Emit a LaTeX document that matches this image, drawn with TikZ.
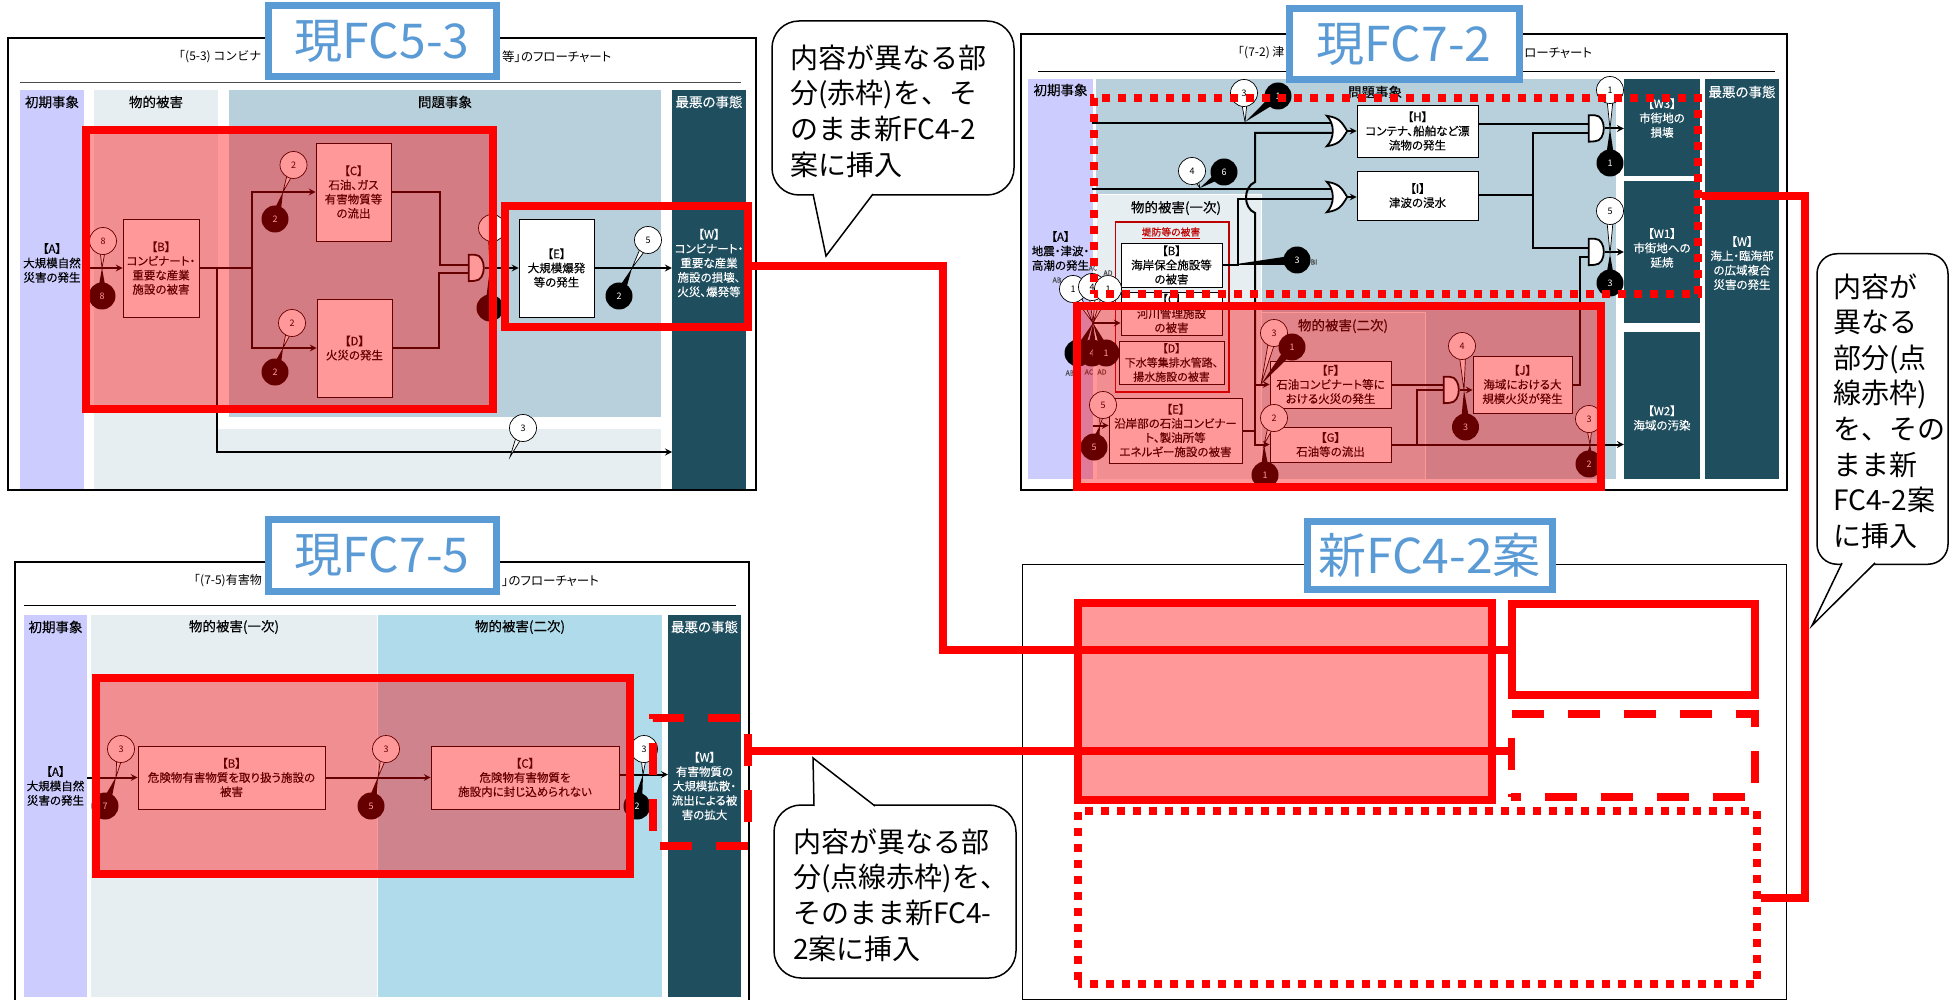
\documentclass[tikz,border=0pt]{standalone}
\usepackage{fontspec}
\setmainfont[RawFeature=+palt,FakeBold=0.2]{Noto Sans CJK JP}
\newfontfamily\notefont{Noto Sans CJK JP}
\newfontfamily\titlefont[RawFeature=+palt]{Noto Sans CJK JP}
\usetikzlibrary{calc,shadows}
\definecolor{lavcol}{HTML}{CCCCFF}
\definecolor{palecol}{HTML}{E6EEF2}
\definecolor{bluecol}{HTML}{B8CFDC}
\definecolor{skycol}{HTML}{B0DBEB}
\definecolor{midcol}{HTML}{CFDFE8}
\definecolor{darkcol}{HTML}{1F4E5F}
\definecolor{tagcol}{HTML}{5B9BD5}
\tikzset{%
wh/.style 2 args={minimum width=#1pt,minimum height=#2pt},
panel/.style={draw=black,line width=1.5pt,fill=white,inner sep=0pt},
col/.style={fill=#1,inner sep=0pt},
head/.style={inner sep=0pt,font=\fontsize{13.5}{16}\selectfont},
evbox/.style={draw=black,line width=.7pt,fill=white,inner sep=0pt,align=center,font=\fontsize{11.5}{14.2}\selectfont},
evtext/.style={inner sep=0pt,align=center,font=\fontsize{11.5}{14.4}\selectfont},
titletext/.style={inner sep=0pt,font=\notefont\fontsize{12}{14}\selectfont},
titleright/.style={anchor=west,inner sep=0pt,font=\titlefont\fontsize{12.5}{14}\selectfont},
tinytext/.style={inner sep=0pt,text=black!70,font=\fontsize{7}{8}\selectfont},
flow/.style={draw=black,line width=2pt},
gateline/.style={draw=black,line width=1.8pt,fill=white},
bubw/.style={circle,draw=black,line width=.7pt,fill=white,minimum size=27pt,inner sep=0pt,font=\notefont\fontsize{9}{9}\selectfont},
bubk/.style={circle,fill=black,text=white,minimum size=27pt,inner sep=0pt,font=\notefont\fontsize{9}{9}\selectfont},
redfill/.style={draw=red,line width=8pt,fill=red,fill opacity=.4,draw opacity=1},
redline/.style={draw=red,line width=8pt},
reddash/.style={draw=red,line width=7.5pt,dash pattern=on 32pt off 24pt,dash phase=#1},
reddot/.style={draw=red,line width=7.5pt,dash pattern=on 8pt off 8pt,dash phase=#1},
link/.style={draw=red,line width=8pt},
tagbox/.style={draw=tagcol,line width=7pt,fill=white,inner sep=0pt,text=tagcol,font=\notefont\fontsize{48}{52}\selectfont},
notebody/.style={draw=black,line width=1.5pt,fill=white,inner sep=0pt},
notetext/.style={anchor=west,inner sep=0pt,align=left,font=\notefont\fontsize{28}{35.6}\selectfont},
}
\newcommand{\bubwhite}[6]{%
\coordinate (#1c) at (#2,#3);\coordinate (#1t) at (#4,#5);
\filldraw[draw=black,line width=.7pt,fill=white] (#1t) -- ($(#1c)!4pt!90:(#1t)$) -- ($(#1c)!4pt!-90:(#1t)$) -- cycle;
\node[bubw] (#1) at (#1c) {#6};}
\newcommand{\bubblack}[6]{%
\coordinate (#1c) at (#2,#3);\coordinate (#1t) at (#4,#5);
\fill[black] (#1t) -- ($(#1c)!5pt!90:(#1t)$) -- ($(#1c)!5pt!-90:(#1t)$) -- cycle;
\node[bubk] (#1) at (#1c) {#6};}
\newcommand{\andgate}[3]{%
\node[wh={16}{26},inner sep=0pt] (#1) at (#2,#3) {};
\draw[gateline] (#1.north west) -- ++(6,0) .. controls +(12,0) and +(12,0) .. ++(0,26) -- (#1.south west) -- cycle;}
\newcommand{\orgate}[3]{%
\node[wh={20}{30},inner sep=0pt] (#1) at (#2,#3) {};
\draw[gateline] (#1.north west) .. controls +(12,2) and +(-6,-10) .. (#1.east) .. controls +(-6,10) and +(12,-2) .. (#1.south west) .. controls +(8,-8) and +(8,8) .. (#1.north west) -- cycle;}
\newcommand{\notetail}[3]{%
\fill[white] (#1) -- (#2) -- (#3) -- cycle;
\draw[black,line width=1.5pt] (#1) -- (#2) -- (#3);}

\begin{document}
\begin{tikzpicture}[x=1pt,y=-1pt,>=stealth]
\useasboundingbox (0,0) rectangle (1952,1000);

% FC5-3
\node[panel,wh={748}{452}] (pan53) at (382,264) {};
\node[titletext,anchor=west] (tla53) at (173,57) {「(5-3) コンビナ};
\node[titleright] (tlb53) at (502,57) {等」のフローチャート};
\draw[black!70,line width=1pt] (20,83) -- (741,83);
\node[col=lavcol,wh={64}{399}] (a53) at (52,289.5) {};
\node[col=palecol,wh={124}{399}] (p53) at (156,289.5) {};
\node[col=bluecol,wh={432}{327}] (q53) at (445,253.5) {};
\node[col=palecol,wh={443}{60}] (r53) at (439.5,459) {};
\node[col=darkcol,wh={74}{399}] (w53) at (709,289.5) {};
\node[head] (ha53) at (52,102) {初期事象};
\node[head] (hp53) at (156,102) {物的被害};
\node[head] (hq53) at (445,102) {問題事象};
\node[head,text=white] (hw53) at (709,102) {最悪の事態};
\node[evtext] (at53) at (52,263) {【A】\\大規模自然\\災害の発生};
\node[evtext,text=white] (wt53) at (709,263) {【W】\\コンビナート・\\重要な産業\\施設の損壊、\\火災、爆発等};
\node[evbox,wh={76}{98}] (b53) at (161,268) {【B】\\コンビナート・\\重要な産業\\施設の被害};
\node[evbox,wh={75}{98}] (c53) at (353.5,192) {【C】\\石油、ガス\\有害物質等\\の流出};
\node[evbox,wh={75}{98}] (d53) at (354.5,348) {【D】\\火災の発生};
\node[evbox,wh={75}{98}] (e53) at (556.5,268) {【E】\\大規模爆発\\等の発生};
\andgate{g53}{477}{268}
\coordinate (j53a) at (252,268);
\coordinate (j53b) at (217,268);
\coordinate (k53) at (672,452);
\draw[flow,->] (a53.east |- b53.west) -- (b53.west);
\draw[flow] (b53.east) -- (j53a);
\draw[flow,->] (j53a) |- (c53.west);
\draw[flow,->] (j53a) |- (d53.west);
\draw[flow] (c53.east) -- ++(49,0) |- ([yshift=3pt]g53.west);
\draw[flow] (d53.east) -- ++(47,0) |- ([yshift=-5pt]g53.west);
\draw[flow,->] (g53.east) -- (e53.west);
\draw[flow,->] (e53.east) -- (e53.east -| w53.west);
\draw[flow,->] (j53b) |- (k53);
\bubwhite{wa53}{103}{241}{102}{268}{8}
\bubblack{ka53}{102}{296}{102}{268}{8}
\bubwhite{wb53}{293.5}{165}{283}{192}{2}
\bubblack{kb53}{275}{219}{283}{192}{2}
\bubwhite{wc53}{292}{323}{283}{348}{2}
\bubblack{kc53}{275}{372}{283}{348}{2}
\bubwhite{wd53}{492}{228}{490}{268}{}
\bubblack{kd53}{490}{308}{490}{268}{}
\bubwhite{we53}{648}{240}{632}{268}{5}
\bubblack{ke53}{619}{296}{632}{268}{2}
\bubwhite{wf53}{523}{428}{510}{457}{3}
\node[redfill,wh={407}{279}] (fra53) at (289.5,269.5) {};
\node[redline,wh={243}{121}] (frb53) at (626.5,266.5) {};

% FC7-5
\node[panel,wh={734}{448}] (pan75) at (382,786) {};
\node[titletext,anchor=west] (tla75) at (188,581) {「(7-5)有害物};
\node[titleright] (tlb75) at (502,581) {」のフローチャート};
\draw[black,line width=1pt] (24,605) -- (736,605);
\node[col=lavcol,wh={63}{382}] (a75) at (55.5,806) {};
\node[col=palecol,wh={286}{382}] (p75) at (234,806) {};
\node[col=skycol,wh={284}{382}] (q75) at (520,806) {};
\node[col=darkcol,wh={73}{382}] (w75) at (704.5,806) {};
\node[head] (ha75) at (55.5,627) {初期事象};
\node[head] (hp75) at (234,627) {物的被害(一次)};
\node[head] (hq75) at (520,627) {物的被害(二次)};
\node[head,text=white] (hw75) at (704.5,627) {最悪の事態};
\node[evtext] (at75) at (55.5,786) {【A】\\大規模自然\\災害の発生};
\node[evtext,text=white] (wt75) at (704.5,786) {【W】\\有害物質の\\大規模拡散・\\流出による被\\害の拡大};
\node[evbox,wh={187}{63}] (b75) at (231.5,777.5) {【B】\\危険物有害物質を取り扱う施設の\\被害};
\node[evbox,wh={188}{63}] (c75) at (525,777.5) {【C】\\危険物有害物質を\\施設内に封じ込められない};
\coordinate (k75) at (668,774.5);
\draw[flow,->] (a75.east |- b75.west) -- (b75.west);
\draw[flow,->] (b75.east) -- (c75.west);
\draw[flow,->] ([yshift=3pt]c75.east) -- (k75);
\bubwhite{wa75}{121}{749}{116}{777}{3}
\bubblack{ka75}{105}{806}{116}{777}{7}
\bubwhite{wb75}{386}{749}{378}{777}{3}
\bubblack{kb75}{371}{806}{378}{777}{5}
\bubwhite{wc75}{644}{749}{643}{774.5}{3}
\bubblack{kc75}{637}{806}{643}{774.5}{2}
\node[redfill,wh={534}{196}] (fra75) at (363,776) {};
\node[reddash=49pt,wh={95}{128}] (frb75) at (700.5,782) {};

% FC7-2
\node[panel,wh={766}{456}] (pan72) at (1404,262) {};
\node[titletext,anchor=west] (tla72) at (1232,53) {「(7-2) 津};
\node[titleright] (tlb72) at (1524,53) {ローチャート};
\draw[black,line width=1pt] (1038,72) -- (1775,72);
\node[col=lavcol,wh={65}{400}] (a72) at (1060.5,279) {};
\node[col=bluecol,wh={520}{400}] (q72) at (1356,279) {};
\node[col=palecol,draw=white,line width=1pt,wh={165}{284}] (p72) at (1178.5,337) {};
\node[col=midcol,draw=white,line width=1pt,wh={164}{166}] (s72) at (1343,396) {};
\node[col=darkcol,wh={76}{97}] (w372) at (1662,127.5) {};
\node[col=darkcol,wh={76}{142}] (w172) at (1662,252) {};
\node[col=darkcol,wh={76}{147}] (w272) at (1662,405.5) {};
\node[col=darkcol,wh={74}{400}] (w72) at (1742,279) {};
\node[head] (ha72) at (1060.5,90) {初期事象};
\node[head] (hq72) at (1375,92) {問題事象};
\node[head,text=white] (hw72) at (1742,92) {最悪の事態};
\node[head] (hp72) at (1176,208) {物的被害(一次)};
\node[head] (hs72) at (1343,326) {物的被害(二次)};
\node[evtext] (at72) at (1060.5,251) {【A】\\地震・津波・\\高潮の発生};
\node[evtext,text=white] (wt372) at (1662,118) {【W3】\\市街地の\\損壊};
\node[evtext,text=white] (wt172) at (1662,248) {【W1】\\市街地への\\延焼};
\node[evtext,text=white] (wt272) at (1662,418) {【W2】\\海域の汚染};
\node[evtext,text=white] (wt72) at (1742,263) {【W】\\海上・臨海部\\の広域複合\\災害の発生};
\node[draw=red!75!black,line width=1.5pt,inner sep=0pt,wh={113.5}{170}] (dyk72) at (1172,307) {};
\node[inner sep=0pt,text=red!75!black,font=\fontsize{9.8}{11}\selectfont] (dyt72) at (1171,233) {\underline{堤防等の被害}};
\node[evbox,wh={121}{52}] (h72) at (1417.5,131) {【H】\\コンテナ、船舶など漂\\流物の発生};
\node[evbox,wh={121}{49}] (i72) at (1417.5,195.5) {【I】\\津波の浸水};
\node[evbox,wh={101}{44},drop shadow={shadow xshift=1pt,shadow yshift=-1pt,fill=black!50,opacity=1}] (b72) at (1171.5,265) {【B】\\海岸保全施設等\\の被害};
\node[evbox,wh={101}{43},drop shadow={shadow xshift=1pt,shadow yshift=-1pt,fill=black!50,opacity=1}] (c72) at (1171.5,313.5) {【C】\\河川管理施設\\の被害};
\node[evbox,wh={105}{43},font=\fontsize{11}{14.2}\selectfont,drop shadow={shadow xshift=1pt,shadow yshift=-1pt,fill=black!50,opacity=1}] (d72) at (1171.5,362.5) {【D】\\下水等集排水管路、\\揚水施設の被害};
\node[evbox,wh={133}{65}] (e72) at (1175.5,430.5) {【E】\\沿岸部の石油コンビナー\\ト、製油所等\\エネルギー施設の被害};
\node[evbox,wh={121}{47}] (f72) at (1330.5,384.5) {【F】\\石油コンビナート等に\\おける火災の発生};
\node[evbox,wh={121}{35}] (g72) at (1330.5,444.5) {【G】\\石油等の流出};
\node[evbox,wh={99}{57}] (j72) at (1522.5,384.5) {【J】\\海域における大\\規模火災が発生};
\orgate{orh72}{1337}{131}
\orgate{ori72}{1337}{197}
\andgate{anda72}{1597}{128.5}
\andgate{andb72}{1597}{252}
\andgate{andj72}{1452}{390}
\coordinate (sa72) at (1092,123);
\coordinate (sb72) at (1092,189);
\coordinate (sc72) at (1093,323);
\coordinate (sd72) at (1093,425.5);
\coordinate (ja72) at (1255,133);
\coordinate (jb72) at (1255,182);
\coordinate (jc72) at (1255,213);
\coordinate (jd72) at (1255,384.5);
\coordinate (je72) at (1533,195.5);
\coordinate (jf72) at (1417,444.5);
\draw[flow] (sa72) -- ([xshift=4.5pt,yshift=8pt]orh72.west);
\draw[flow] (sb72) -- ([xshift=4.5pt,yshift=8pt]ori72.west);
\draw[flow] (b72.east) -- ++(16,0) |- ([xshift=5pt,yshift=-2pt]ori72.west);
\draw[flow] ([xshift=5pt,yshift=-2pt]orh72.west) -- (ja72) -- (jb72) .. controls +(-12,5) and +(-12,-5) .. (jc72) -- (jd72);
\draw[flow,->] (jc72) |- (g72.west);
\draw[flow,->] (jd72) -- (f72.west);
\draw[flow] (e72.east) -- (e72.east -| jd72);
\draw[flow,->] (orh72.east) -- (h72.west);
\draw[flow,->] (ori72.east) -- (ori72.east -| i72.west);
\draw[flow] ([yshift=7pt]h72.east) -- ([yshift=7pt]h72.east -| anda72.west);
\draw[flow] (i72.east) -- (je72);
\draw[flow] ([yshift=-4.5pt]anda72.west) -| (je72);
\draw[flow] ([yshift=4pt]andb72.west) -| (je72);
\draw[flow] (j72.east) -- ++(8,0) |- ([yshift=-5pt]andb72.west);
\draw[flow,->] (anda72.east) -- (anda72.east -| w372.west);
\draw[flow,->] (andb72.east) -- (andb72.east -| w172.west);
\draw[flow] (f72.east) -- (f72.east -| andj72.west);
\draw[flow,->] (g72.east) -- (g72.east -| w272.west);
\draw[flow] (jf72) |- (andj72.west);
\draw[flow,->] (andj72.east) -- (andj72.east -| j72.west);
\draw[flow,->] (sc72) -- (sc72 -| c72.west);
\draw[flow,->] (sd72) -- (sd72 -| e72.west);
\bubwhite{wa72}{1244}{93}{1245}{122}{3}
\bubblack{ka72}{1278}{96}{1245}{122}{1}
\bubwhite{wb72}{1192}{171}{1200}{188}{4}
\bubblack{kb72}{1224}{172}{1200}{188}{6}
\bubwhite{wc72}{1610}{90}{1610}{129}{1}
\bubblack{kc72}{1610}{163}{1610}{129}{1}
\bubwhite{wd72}{1610}{211}{1610}{254}{5}
\bubblack{kd72}{1610}{283}{1610}{254}{3}
\bubblack{ke72}{1297}{260}{1230}{265}{3}
\bubwhite{wf72}{1073}{289}{1093}{323}{1}
\bubwhite{wg72}{1092}{287}{1093}{323}{4}
\bubwhite{wh72}{1108}{289}{1093}{323}{1}
\bubblack{kf72}{1078}{353}{1093}{323}{}
\bubblack{kg72}{1092}{353}{1093}{323}{4}
\bubblack{kh72}{1106}{353}{1093}{323}{1}
\bubwhite{wi72}{1103}{405}{1100}{425.5}{5}
\bubblack{ki72}{1094}{447}{1100}{425.5}{5}
\bubwhite{wj72}{1274}{333}{1261}{384.5}{3}
\bubblack{kj72}{1292}{347}{1261}{384.5}{1}
\bubwhite{wk72}{1274}{418}{1264}{444.5}{2}
\bubblack{kk72}{1265}{475}{1264}{444.5}{1}
\bubwhite{wl72}{1462}{346}{1464}{390}{4}
\bubblack{kl72}{1465.5}{427}{1464}{390}{3}
\bubwhite{wm72}{1589}{419}{1590}{444.5}{3}
\bubblack{km72}{1589}{464}{1590}{444.5}{2}
\node[tinytext] (bi72) at (1314,262) {BI};
\node[tinytext] (ab72) at (1057,280) {AB};
\node[tinytext] (ac72) at (1093,268) {AC};
\node[tinytext] (ad72) at (1108,273) {AD};
\node[tinytext] (abb72) at (1070,373) {AB};
\node[tinytext] (acb72) at (1089,372) {AC};
\node[tinytext] (adb72) at (1102,372) {AD};
\node[redfill,wh={524}{181}] (fra72) at (1339,396.5) {};
\node[reddot=4pt,wh={604}{196}] (frb72) at (1396,196) {};

% new FC4-2
\node[panel,wh={764}{435},line width=1pt] (pannew) at (1404,781.5) {};
\node[redline,fill=red!40,wh={414}{197}] (frbox) at (1285,701.5) {};
\node[redline,wh={243}{91}] (frsol) at (1633.5,649.5) {};
\node[reddash=22.5pt,wh={243.5}{83}] (frdsh) at (1633,755.5) {};
\node[reddot=4pt,wh={679}{173}] (frdot) at (1417.5,897.5) {};

% links between the frames
\coordinate (bn1) at (943,400);
\coordinate (bn2) at (1805,500);
\coordinate (st2) at (748,751);
\draw[link] (frb53.east) -| (bn1) |- (frsol.west);
\draw[link] (st2) -- (st2 -| frdsh.west);
\draw[link] (frb72.east) -| (bn2) |- (frdot.east);

% tags
\node[tagbox,wh={228}{71}] (tag53) at (382,41.5) {現FC5-3};
\node[tagbox,wh={230}{71}] (tag72) at (1404,44.5) {現FC7-2};
\node[tagbox,wh={228}{72}] (tag75) at (382,555) {現FC7-5};
\node[tagbox,wh={245}{68}] (tagnew) at (1429.5,555) {新FC4-2案};

% notes
\node[notebody,rounded corners=27pt,wh={242}{174}] (note1) at (893,108) {};
\notetail{813,194}{826,256}{873,194}
\node[notetext] (notet1) at (790,111) {内容が異なる部\\分(赤枠)を、そ\\のまま新FC4-2\\案に挿入};
\node[notebody,rounded corners=27pt,wh={242}{173}] (note2) at (895,891.5) {};
\notetail{814,806}{813,758}{875,806}
\node[notetext] (notet2) at (793,895) {内容が異なる部\\分(点線赤枠)を、\\そのまま新FC4-\\2案に挿入};
\node[notebody,rounded corners=20pt,wh={131}{310.5}] (note3) at (1882.5,409) {};
\notetail{1842,563}{1812,625.5}{1875,563}
\node[notetext] (notet3) at (1833,411) {内容が\\異なる\\部分(点\\線赤枠)\\を、その\\まま新\\FC4-2案\\に挿入};
\end{tikzpicture}
\end{document}
